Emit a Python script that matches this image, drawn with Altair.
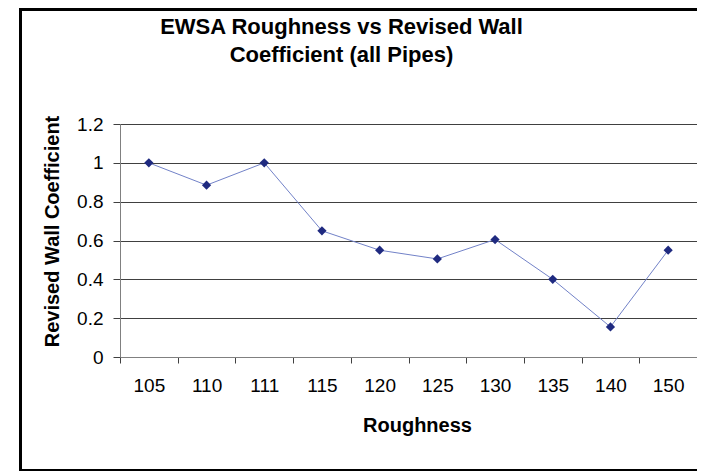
import altair as alt
import pandas as pd

# ---- data ----
roughness = ["105", "110", "111", "115", "120", "125", "130", "135", "140", "150"]
coefficient = [1.0, 0.885, 1.0, 0.65, 0.55, 0.505, 0.605, 0.4, 0.155, 0.55]
y_ticks = [0, 0.2, 0.4, 0.6, 0.8, 1.0, 1.2]
title_lines = ["EWSA Roughness vs Revised Wall", "Coefficient (all Pipes)"]
x_title = "Roughness"
y_title = "Revised Wall Coefficient"

df = pd.DataFrame({"Roughness": roughness, "Coefficient": coefficient})
frame_df = pd.DataFrame({"k": [0]})

FONT = "Liberation Sans"
W, H = 577, 233
PAD = {"left": 112, "top": 116, "right": 0, "bottom": 115}

x_enc = alt.X(
    "Roughness:N",
    sort=roughness,
    title=x_title,
    scale=alt.Scale(paddingInner=0, paddingOuter=0),
    axis=alt.Axis(
        labelAngle=0, labelFontSize=19, labelColor="black", labelFont=FONT,
        labelPadding=13, tickBand="extent", tickSize=6, tickColor="#404040",
        domainColor="#808080", grid=False,
        titleFontSize=20, titleFontWeight="bold", titleFont=FONT, titleColor="black",
        titleX=297, titleY=74, titleBaseline="alphabetic",
    ),
)
y_enc = alt.Y(
    "Coefficient:Q",
    title=y_title,
    scale=alt.Scale(domain=[0, 1.2], nice=False, zero=True),
    axis=alt.Axis(
        values=y_ticks, format=".1~f", labelFontSize=19, labelColor="black",
        labelFont=FONT, labelPadding=10, tickSize=7, tickColor="#404040",
        domainColor="#808080", grid=True, gridColor="#404040", gridWidth=1,
        titleFontSize=20, titleFontWeight="bold", titleFont=FONT, titleColor="black",
        titleAngle=270, titleX=-62, titleY=107, titleBaseline="alphabetic",
        titleAlign="center",
    ),
)

# outer chart frame (left, top, bottom edges; the right edge lies beyond the picture)
FL, FT, FB, FR = -99.5, -114.5, H + PAD["bottom"] - 1.5, W
frame_style = dict(color="black", strokeWidth=3, strokeCap="butt")
frame_left = alt.Chart(frame_df).mark_rule(**frame_style).encode(
    x=alt.value(FL), y=alt.value(FT - 1.5), y2=alt.value(FB + 1.5))
frame_top = alt.Chart(frame_df).mark_rule(**frame_style).encode(
    y=alt.value(FT), x=alt.value(FL), x2=alt.value(FR))
frame_bottom = alt.Chart(frame_df).mark_rule(**frame_style).encode(
    y=alt.value(FB), x=alt.value(FL), x2=alt.value(FR))

line = alt.Chart(df).mark_line(color="#7282C8", strokeWidth=1).encode(x=x_enc, y=y_enc)
points = alt.Chart(df).mark_point(
    shape="diamond", filled=True, size=85, color="#1F2A80", opacity=1
).encode(x=x_enc, y=y_enc)

chart = alt.layer(frame_left, frame_top, frame_bottom, line, points).properties(
    width=W,
    height=H,
    padding=PAD,
    autosize=alt.AutoSizeParams(type="none"),
    title=alt.TitleParams(
        text=title_lines, fontSize=22, fontWeight="bold", font=FONT,
        color="black", anchor="middle", frame="group", dx=-67, offset=0, dy=60,
        lineHeight=28,
    ),
).configure_view(stroke=None).configure(background="white")

chart.save("out.html", embed_options={"renderer": "svg", "actions": False})
